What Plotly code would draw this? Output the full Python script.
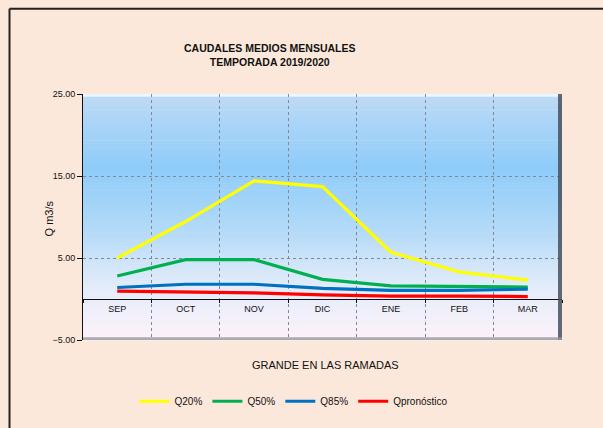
import plotly.graph_objects as go

# ---- data ----
months = ['SEP', 'OCT', 'NOV', 'DIC', 'ENE', 'FEB', 'MAR']
q20 = [5.0, 9.45, 14.4, 13.7, 5.7, 3.3, 2.3]
q50 = [2.8, 4.8, 4.8, 2.4, 1.6, 1.55, 1.45]
q85 = [1.4, 1.8, 1.8, 1.3, 1.05, 1.05, 1.2]
qpron = [0.95, 0.85, 0.75, 0.5, 0.35, 0.35, 0.3]
y_ticks = [-5, 5, 15, 25]

W, H = 603, 428
L, R, T, B = 83, 41, 94, 77
PH = H - T - B
PW = W - L - R
FONT = 'Liberation Sans, Arial, sans-serif'
BG = '#FCE8DA'

series = [('Q20%', q20, '#FFFF00'), ('Q50%', q50, '#00B050'),
          ('Q85%', q85, '#0070C0'), ('Qpronóstico', qpron, '#FF0000')]

fig = go.Figure()
for name, vals, col in series:
    fig.add_trace(go.Scatter(x=months, y=vals, name=name, mode='lines',
                             line=dict(color=col, width=3.2)))

# vertical gradient of the plot area (top -> bottom), approximated with bands
stops = [(0.0, (190, 218, 246)), (0.3, (142, 204, 249)), (0.55, (178, 218, 248)),
         (0.8, (230, 237, 250)), (1.0, (252, 242, 250))]
def col_at(t):
    for (a, ca), (b, cb) in zip(stops[:-1], stops[1:]):
        if a <= t <= b:
            f = (t - a) / (b - a)
            return 'rgb(%d,%d,%d)' % tuple(round(ca[i] + (cb[i] - ca[i]) * f) for i in range(3))
    return 'rgb(%d,%d,%d)' % stops[-1][1]

shapes = []
NB = 80
for k in range(NB):
    t = (k + 0.5) / NB
    shapes.append(dict(type='rect', xref='paper', yref='paper', x0=0, x1=1,
                       y0=1 - (k + 1) / NB - 0.002, y1=1 - k / NB,
                       fillcolor=col_at(t), line=dict(width=0), layer='below'))
# bevel of the plot area
px = 1 / PW
py = 1 / PH
shapes += [
    dict(type='rect', xref='paper', yref='paper', x0=0, x1=1, y0=1 - 3 * py, y1=1,
         fillcolor='rgba(240,250,255,0.9)', line=dict(width=0), layer='below'),
    dict(type='rect', xref='paper', yref='paper', x0=1 - 4 * px, x1=1, y0=0, y1=1,
         fillcolor='rgba(70,80,95,0.85)', line=dict(width=0), layer='above'),
    dict(type='rect', xref='paper', yref='paper', x0=0, x1=1, y0=0, y1=3 * py,
         fillcolor='rgba(150,150,160,0.8)', line=dict(width=0), layer='above'),
    # outer frame (top and left borders)
    dict(type='line', xref='paper', yref='paper', x0=(9.5 - L) / PW, x1=1.2,
         y0=(H - B - 5) / PH, y1=(H - B - 5) / PH, line=dict(color='#222222', width=2)),
    dict(type='line', xref='paper', yref='paper', x0=(9.5 - L) / PW, x1=(9.5 - L) / PW,
         y0=(H - B - 5) / PH, y1=-0.5, line=dict(color='#222222', width=2)),
]

annotations = [
    dict(text='<b>CAUDALES MEDIOS MENSUALES<br>TEMPORADA 2019/2020</b>', xref='paper', yref='paper',
         x=(270 - L) / PW, y=(H - B - 38) / PH, showarrow=False, align='center',
         font=dict(family=FONT, size=10.5, color='#111111')),
    dict(text='GRANDE EN LAS RAMADAS', xref='paper', yref='paper',
         x=(325 - L) / PW, y=(H - B - 385) / PH, showarrow=False,
         font=dict(family=FONT, size=11, color='#111111')),
    dict(text='Q m3/s', xref='paper', yref='paper', textangle=-90,
         x=(41 - L) / PW, y=(H - B - 224) / PH, showarrow=False,
         font=dict(family=FONT, size=11, color='#111111')),
]

fig.update_layout(
    width=W, height=H, margin=dict(l=L, r=R, t=T, b=B),
    paper_bgcolor=BG, plot_bgcolor='rgba(0,0,0,0)',
    font=dict(family=FONT, size=9, color='#111111'),
    shapes=shapes, annotations=annotations, showlegend=True,
    legend=dict(orientation='h', x=(294 - L) / PW, xanchor='center',
                y=(H - B - 415) / PH, yanchor='middle', bgcolor='rgba(0,0,0,0)',
                font=dict(family=FONT, size=10), itemwidth=30, tracegroupgap=0),
    xaxis=dict(type='category', anchor='free', position=5 / 30, tickson='boundaries',
               ticks='outside', ticklen=3, tickcolor='#111111', showline=False,
               ticklabelstandoff=3,
               showgrid=True, gridcolor='#7f8a96', griddash='dot', gridwidth=1,
               tickfont=dict(size=9), range=[-0.5, 6.5]),
    yaxis=dict(range=[-5, 25], tickvals=y_ticks, tickformat='.2f', showline=True,
               linecolor='#111111', linewidth=1, ticks='outside', ticklen=5, tickcolor='#111111',
               showgrid=True, gridcolor='#7f8a96', griddash='dot', gridwidth=1,
               zeroline=True, zerolinecolor='#111111', zerolinewidth=1,
               tickfont=dict(size=9)),
)

fig.write_html('out.html', config={'displayModeBar': False},
               post_script="document.body.style.margin='0';")
